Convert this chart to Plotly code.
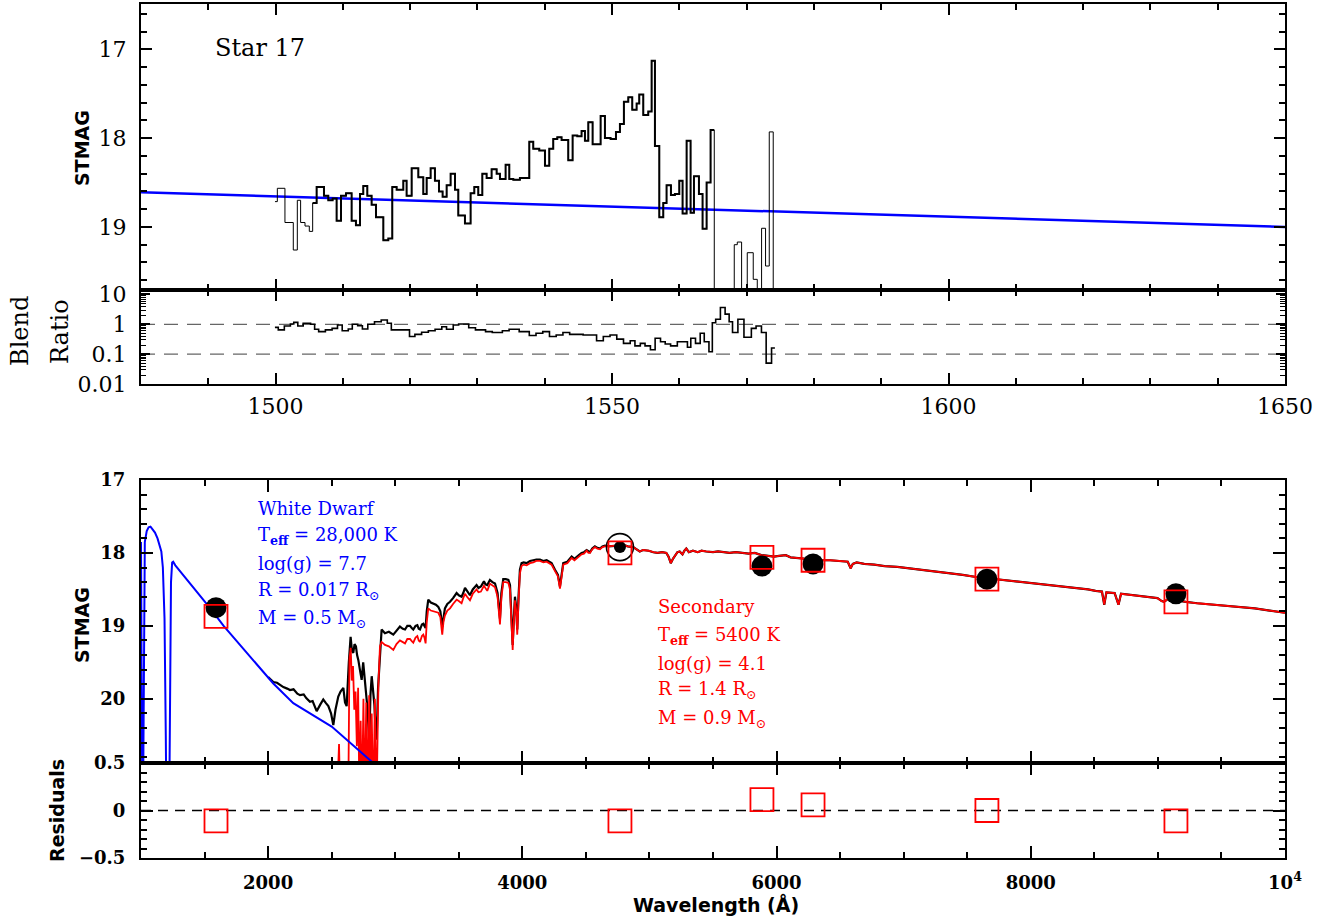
import plotly.graph_objects as go

# ---------------- top panel: observed UV spectrum (bin left edges, STMAG) ----------------
UV_EDGE = [1499.91, 1500.26, 1501.39, 1502.63, 1503.23, 1503.72, 1504.37, 1505.01, 1505.51, 1506.10,
           1507.19, 1507.83, 1508.48, 1509.07, 1509.72, 1510.46, 1511.30, 1511.94, 1512.54, 1513.03,
           1513.63, 1514.27, 1514.92, 1516.01, 1516.75, 1517.34, 1517.99, 1518.98, 1519.47, 1520.22,
           1521.21, 1521.95, 1522.45, 1523.04, 1523.68, 1524.28, 1524.82, 1525.42, 1526.01, 1526.66,
           1527.15, 1528.14, 1528.98, 1529.53, 1530.12, 1530.72, 1531.36, 1532.10, 1532.85, 1533.34,
           1534.18, 1534.73, 1535.32, 1536.31, 1537.70, 1538.29, 1539.18, 1540.03, 1540.67, 1541.26,
           1541.86, 1542.50, 1543.49, 1544.14, 1544.83, 1545.47, 1545.97, 1546.47, 1547.11, 1548.30,
           1548.94, 1549.78, 1550.58, 1551.17, 1551.76, 1552.41, 1553.00, 1553.65, 1554.04, 1554.64,
           1555.38, 1555.88, 1556.37, 1557.02, 1557.61, 1558.10, 1558.75, 1559.34, 1559.99, 1560.48,
           1561.08, 1561.67, 1562.17, 1562.91, 1563.45, 1564.05, 1564.64, 1565.19, 1568.16, 1568.61,
           1569.25, 1570.09, 1570.98, 1571.58, 1572.22, 1572.81, 1573.36, 1573.95]
UV_MAG = [18.715, 18.565, 18.95, 19.26, 18.70, 18.95, 18.99, 19.05, 18.73, 18.55,
          18.65, 18.70, 18.68, 18.93, 18.65, 18.62, 18.93, 18.98, 18.63, 18.54,
          18.65, 18.75, 18.89, 19.15, 19.13, 18.55, 18.58, 18.48, 18.65, 18.34,
          18.44, 18.63, 18.45, 18.34, 18.48, 18.60, 18.66, 18.53, 18.40, 18.58,
          18.87, 18.96, 18.62, 18.55, 18.64, 18.40, 18.45, 18.35, 18.40, 18.46,
          18.30, 18.46, 18.47, 18.45, 18.04, 18.12, 18.14, 18.31, 18.12, 18.01,
          17.99, 18.02, 18.25, 17.97, 17.98, 17.92, 18.03, 17.82, 18.07, 17.75,
          18.00, 18.01, 17.93, 17.84, 17.59, 17.54, 17.68, 17.61, 17.51, 17.74,
          17.70, 17.13, 18.09, 18.89, 18.73, 18.53, 18.64, 18.63, 18.48, 18.85,
          18.03, 18.84, 18.43, 18.63, 19.02, 18.50, 17.91, 20.50, 19.20, 19.17,
          20.50, 19.29, 19.59, 20.50, 19.015, 19.44, 17.93, 20.50]
GOOD_RANGE = [1505.5, 1564.7]   # wavelengths drawn with the heavy line

# ---------------- blend ratio (bin left edges) ----------------
RATIO_EDGE = [1499.9, 1500.4, 1501.3, 1502.2, 1502.7, 1503.3, 1504.1, 1505.2, 1505.8, 1506.4,
              1507.4, 1508.4, 1509.2, 1509.9, 1510.8, 1511.4, 1512.2, 1512.9, 1513.7, 1514.7,
              1515.7, 1516.6, 1517.2, 1519.9, 1520.7, 1521.7, 1522.7, 1523.7, 1524.7, 1525.4,
              1526.4, 1527.2, 1528.7, 1529.7, 1531.2, 1532.2, 1533.7, 1534.7, 1536.2, 1537.7,
              1538.7, 1539.7, 1540.7, 1541.7, 1542.7, 1543.7, 1545.7, 1547.7, 1548.7, 1549.7,
              1550.7, 1551.7, 1552.7, 1553.4, 1554.2, 1554.9, 1555.7, 1556.4, 1557.2, 1557.9,
              1558.7, 1559.7, 1560.4, 1561.2, 1561.7, 1562.4, 1563.1, 1563.7, 1564.4, 1564.9,
              1565.4, 1566.1, 1566.8, 1567.4, 1567.9, 1568.7, 1569.6, 1570.7, 1571.4, 1572.2,
              1572.9, 1573.7, 1574.2]
RATIO_VAL = [0.79, 0.65, 0.88, 1.02, 1.16, 0.88, 1.08, 1.00, 0.68, 0.57,
             0.65, 0.73, 0.95, 0.61, 0.70, 1.00, 0.90, 0.70, 1.00, 1.22,
             1.39, 1.08, 0.65, 0.39, 0.46, 0.54, 0.61, 0.68, 0.83, 0.68,
             0.95, 1.02, 0.77, 0.65, 0.57, 0.53, 0.61, 0.68, 0.57, 0.42,
             0.50, 0.57, 0.39, 0.44, 0.53, 0.46, 0.44, 0.28, 0.39, 0.44,
             0.32, 0.23, 0.28, 0.19, 0.23, 0.19, 0.14, 0.34, 0.26, 0.22,
             0.19, 0.26, 0.26, 0.17, 0.34, 0.23, 0.50, 0.26, 0.12, 1.13,
             1.47, 3.68, 2.20, 1.22, 0.53, 1.47, 0.37, 0.73, 0.88, 0.53,
             0.05, 0.16, 0.16]
RATIO_LINES = [1.0, 0.1]

# ---------------- bottom panel: model spectra ----------------
WD_WL = [1000, 1006, 1010, 1016, 1022, 1030, 1045, 1060, 1075, 1090, 1110, 1130, 1145, 1160,
         1172, 1185, 1195, 1200, 1222, 1228, 1236, 1245, 1253, 1270, 1480, 1550, 1650, 1858,
         2041, 2198, 2500, 2827, 2870]
WD_MAG = [17.85, 19.50, 21.5, 21.5, 19.00, 17.85, 17.70, 17.65, 17.64, 17.67, 17.72, 17.80, 17.88, 17.98,
          18.20, 18.90, 20.50, 21.5, 21.5, 19.50, 18.40, 18.13, 18.12, 18.17, 18.61, 18.77, 19.00, 19.42,
          19.79, 20.06, 20.38, 20.88, 20.95]

BLEND_WL = [2000, 2041, 2070, 2094, 2120, 2150, 2172, 2200, 2230, 2251, 2280, 2300, 2329, 2350,
            2382, 2410, 2434, 2455, 2474, 2495, 2513, 2530, 2552, 2570, 2592, 2605, 2618, 2635,
            2649, 2660, 2670, 2680, 2691, 2700, 2710, 2722, 2736, 2748, 2762, 2771, 2780, 2796,
            2805, 2815, 2825, 2836, 2845, 2854, 2865, 2875, 2885, 2893, 2919, 2950, 2985, 3010,
            3037, 3060, 3077, 3095, 3116, 3130, 3142, 3160, 3174, 3185, 3195, 3210, 3221, 3230,
            3239, 3248, 3260, 3280, 3300, 3320, 3339, 3355, 3370, 3380, 3391, 3410, 3431, 3455,
            3483, 3500, 3522, 3535, 3549, 3565, 3588, 3610, 3640, 3655, 3674, 3698, 3710, 3724,
            3745, 3765, 3785, 3805, 3824, 3835, 3850, 3870, 3890, 3903, 3915, 3924, 3933, 3942,
            3952, 3960, 3970, 3981, 3994, 4010, 4034, 4060, 4086, 4110, 4139, 4165, 4191, 4210,
            4230, 4257, 4280, 4296, 4310, 4322, 4354, 4370, 4388, 4410, 4427, 4445, 4466, 4485,
            4506, 4520, 4532, 4550, 4571, 4590, 4611, 4630, 4650]
BLEND_MAG = [19.70, 19.77, 19.78, 19.81, 19.84, 19.86, 19.88, 19.87, 19.93, 19.95, 19.94, 19.99, 20.04, 20.03,
             20.17, 20.08, 20.01, 20.06, 20.10, 20.20, 20.36, 20.15, 19.97, 19.90, 19.85, 20.05, 20.10, 19.50,
             19.15, 19.35, 19.37, 19.25, 19.28, 19.40, 19.47, 19.60, 19.74, 19.50, 19.74, 19.85, 20.10, 20.58,
             19.95, 19.69, 19.85, 20.08, 20.40, 20.56, 19.85, 19.56, 19.20, 19.05, 19.10, 19.08, 19.12, 19.06,
             19.01, 19.04, 19.05, 19.00, 19.00, 19.03, 19.05, 19.00, 18.99, 19.04, 19.05, 18.98, 18.97, 19.00,
             19.03, 18.80, 18.64, 18.68, 18.69, 18.71, 18.74, 18.80, 19.01, 18.85, 18.76, 18.70, 18.67, 18.62,
             18.55, 18.58, 18.60, 18.55, 18.48, 18.52, 18.58, 18.50, 18.44, 18.48, 18.46, 18.39, 18.43, 18.44,
             18.37, 18.40, 18.42, 18.55, 18.90, 18.55, 18.36, 18.36, 18.37, 18.44, 18.85, 19.26, 18.90, 18.60,
             18.75, 19.05, 18.60, 18.23, 18.14, 18.13, 18.14, 18.11, 18.10, 18.09, 18.09, 18.11, 18.10, 18.12,
             18.14, 18.23, 18.30, 18.46, 18.25, 18.14, 18.12, 18.09, 18.05, 18.08, 18.06, 18.03, 18.00, 17.99,
             17.96, 17.98, 17.99, 17.94, 17.91, 17.93, 17.94, 17.91, 17.90]

SEC_WL = [2540, 2558, 2568, 2630, 2640, 2650, 2658, 2668, 2678, 2688, 2698, 2708, 2718, 2728,
          2738, 2750, 2760, 2772, 2784, 2795, 2805, 2815, 2828, 2840, 2852, 2868, 2880, 2893,
          2919, 2950, 2985, 3010, 3037, 3060, 3077, 3095, 3116, 3130, 3142, 3160, 3174, 3185,
          3195, 3210, 3221, 3230, 3239, 3248, 3260, 3280, 3300, 3320, 3339, 3355, 3370, 3380,
          3391, 3410, 3431, 3455, 3483, 3500, 3522, 3535, 3549, 3565, 3588, 3610, 3640, 3655,
          3674, 3698, 3710, 3724, 3745, 3765, 3785, 3805, 3824, 3835, 3850, 3870, 3890, 3903,
          3915, 3924, 3933, 3942, 3952, 3960, 3970, 3981, 3994, 4010, 4034, 4060, 4086, 4110,
          4139, 4165, 4191, 4210, 4230, 4257, 4280, 4296, 4310, 4322, 4354, 4370, 4388, 4410,
          4427, 4445, 4466, 4485, 4506, 4520, 4532, 4550, 4571, 4590, 4611, 4630, 4650]
SEC_MAG = [21.5, 20.62, 21.5, 21.5, 19.45, 19.30, 19.75, 19.55, 20.15, 19.90, 20.65, 19.85, 21.3, 20.30,
           21.5, 20.00, 21.5, 20.05, 21.5, 19.95, 21.5, 20.20, 21.5, 20.00, 21.5, 19.80, 19.28, 19.22,
           19.26, 19.28, 19.33, 19.25, 19.20, 19.23, 19.24, 19.18, 19.18, 19.21, 19.23, 19.16, 19.14, 19.20,
           19.22, 19.14, 19.12, 19.16, 19.24, 18.95, 18.76, 18.79, 18.80, 18.81, 18.82, 18.88, 19.12, 18.94,
           18.86, 18.79, 18.76, 18.70, 18.64, 18.66, 18.69, 18.62, 18.56, 18.60, 18.65, 18.56, 18.50, 18.54,
           18.53, 18.45, 18.49, 18.52, 18.42, 18.45, 18.47, 18.60, 18.98, 18.62, 18.40, 18.40, 18.41, 18.50,
           18.92, 19.33, 18.96, 18.65, 18.80, 19.12, 18.66, 18.28, 18.18, 18.16, 18.17, 18.14, 18.13, 18.11,
           18.11, 18.13, 18.12, 18.14, 18.16, 18.25, 18.32, 18.49, 18.28, 18.16, 18.14, 18.11, 18.07, 18.10,
           18.08, 18.05, 18.02, 18.01, 17.97, 18.00, 18.00, 17.95, 17.92, 17.94, 17.95, 17.92, 17.91]

# optical part where blended and secondary spectra coincide
OPT_WL = [4680, 4716, 4750, 4794, 4830, 4872, 4900, 4924, 4950, 4994, 5030, 5064, 5100, 5133,
          5150, 5168, 5185, 5203, 5220, 5238, 5260, 5275, 5290, 5310, 5342, 5380, 5410, 5446,
          5500, 5540, 5586, 5630, 5680, 5725, 5780, 5829, 5880, 5934, 5980, 6020, 6073, 6110,
          6160, 6220, 6282, 6350, 6421, 6490, 6560, 6583, 6600, 6630, 6690, 6769, 6850, 6950,
          7048, 7150, 7257, 7360, 7465, 7570, 7674, 7780, 7883, 7990, 8092, 8230, 8370, 8450,
          8510, 8560, 8578, 8595, 8660, 8690, 8710, 8760, 8880, 8997, 9030, 9049, 9080, 9136,
          9220, 9310, 9430, 9554, 9660, 9763, 9880, 10000]
OPT_MAG = [17.91, 17.91, 17.90, 17.89, 17.91, 17.92, 17.95, 17.98, 17.96, 17.97, 17.99, 18.00, 17.99, 18.00,
           18.05, 18.14, 18.08, 18.03, 17.99, 17.98, 18.02, 17.97, 17.94, 17.99, 17.97, 17.99, 17.97, 17.98,
           17.99, 17.98, 17.99, 18.00, 17.99, 18.00, 18.01, 18.00, 18.03, 18.04, 18.05, 18.04, 18.03, 18.06,
           18.07, 18.08, 18.09, 18.10, 18.10, 18.11, 18.12, 18.21, 18.15, 18.13, 18.15, 18.16, 18.18, 18.19,
           18.21, 18.24, 18.26, 18.28, 18.30, 18.33, 18.35, 18.37, 18.39, 18.41, 18.43, 18.46, 18.48, 18.50,
           18.52, 18.53, 18.71, 18.54, 18.55, 18.71, 18.56, 18.57, 18.60, 18.62, 18.66, 18.67, 18.63, 18.65,
           18.67, 18.69, 18.71, 18.73, 18.75, 18.76, 18.79, 18.82]

# ---------------- photometry ----------------
PHOT_WL = [1590, 4768, 5885, 6287, 7655, 9142]
PHOT_OBS = [18.75, 17.92, 18.18, 18.15, 18.36, 18.56]
PHOT_MODEL = [18.87, 18.00, 18.06, 18.10, 18.36, 18.67]
PHOT_SIZE = [21, 12, 21, 21, 21, 21]
RING_WL = [4768]
RING_MAG = [17.92]
RESID = [-0.11, -0.11, 0.115, 0.06, 0.0, -0.11]

# ---------------- styling ----------------
SERIF = "DejaVu Serif, Liberation Serif, serif"
SANS = "DejaVu Sans, Liberation Sans, sans-serif"
BLUE = "#0000ff"
RED = "#ff0000"

fig = go.Figure()

# top panel
fig.add_trace(go.Scatter(x=WD_WL, y=WD_MAG, mode="lines", line=dict(color=BLUE, width=2.5),
                         xaxis="x", yaxis="y", hoverinfo="skip"))
fig.add_trace(go.Scatter(x=UV_EDGE, y=UV_MAG, mode="lines", line=dict(color="black", width=1, shape="hv"),
                         xaxis="x", yaxis="y"))
gx = [w for w in UV_EDGE if GOOD_RANGE[0] <= w <= GOOD_RANGE[1]]
gy = [m for w, m in zip(UV_EDGE, UV_MAG) if GOOD_RANGE[0] <= w <= GOOD_RANGE[1]]
gx = gx + [UV_EDGE[len(gx) + UV_EDGE.index(gx[0])]]
gy = gy + [gy[-1]]
fig.add_trace(go.Scatter(x=gx, y=gy, mode="lines", line=dict(color="black", width=2, shape="hv"),
                         xaxis="x", yaxis="y"))

# ratio panel
for lv in RATIO_LINES:
    fig.add_trace(go.Scatter(x=[1480, 1650], y=[lv, lv], mode="lines",
                             line=dict(color="#666666", width=1.3, dash="14px,9px"),
                             xaxis="x2", yaxis="y2"))
fig.add_trace(go.Scatter(x=RATIO_EDGE, y=RATIO_VAL, mode="lines",
                         line=dict(color="black", width=1.6, shape="hv"), xaxis="x2", yaxis="y2"))

# bottom spectrum panel
fig.add_trace(go.Scatter(x=BLEND_WL + OPT_WL, y=BLEND_MAG + OPT_MAG, mode="lines",
                         line=dict(color="black", width=2.2), xaxis="x3", yaxis="y3"))
fig.add_trace(go.Scatter(x=SEC_WL + OPT_WL, y=SEC_MAG + OPT_MAG, mode="lines",
                         line=dict(color=RED, width=1.8), xaxis="x3", yaxis="y3"))
fig.add_trace(go.Scatter(x=WD_WL, y=WD_MAG, mode="lines", line=dict(color=BLUE, width=2),
                         xaxis="x3", yaxis="y3"))
fig.add_trace(go.Scatter(x=RING_WL, y=RING_MAG, mode="markers",
                         marker=dict(symbol="circle-open", size=27, color="black", line=dict(width=1.6, color="black")),
                         xaxis="x3", yaxis="y3"))
fig.add_trace(go.Scatter(x=PHOT_WL, y=PHOT_OBS, mode="markers",
                         marker=dict(symbol="circle", size=PHOT_SIZE, color="#000000", opacity=1,
                                     line=dict(width=0, color="#000000")),
                         xaxis="x3", yaxis="y3"))
fig.add_trace(go.Scatter(x=PHOT_WL, y=PHOT_MODEL, mode="markers",
                         marker=dict(symbol="square-open", size=23, color=RED, line=dict(width=1.8, color=RED)),
                         xaxis="x3", yaxis="y3"))

# residual panel
fig.add_trace(go.Scatter(x=[1000, 10000], y=[0, 0], mode="lines",
                         line=dict(color="black", width=1.6, dash="10px,7px"), xaxis="x4", yaxis="y4"))
fig.add_trace(go.Scatter(x=PHOT_WL, y=RESID, mode="markers",
                         marker=dict(symbol="square-open", size=23, color=RED, line=dict(width=1.8, color=RED)),
                         xaxis="x4", yaxis="y4"))

H = 917
T, B = 4, 59
PH = H - T - B


def py(p):
    return (H - B - p) / PH


def px(p):
    return (p - 141) / 1144


common = dict(showline=True, linewidth=2, linecolor="black", mirror="allticks", ticks="inside",
              tickwidth=1.5, tickcolor="black", showgrid=False, zeroline=False, automargin=False)
serif_tick = dict(family=SERIF, size=22, color="black")
bottom_tick = dict(family=SERIF, size=18, color="black", weight="bold")

log_minor = [m * 10 ** e for e in (-2, -1, 0) for m in range(2, 10)]

fig.update_layout(
    width=1320, height=917, margin=dict(l=141, r=35, t=T, b=B, autoexpand=False),
    paper_bgcolor="white", plot_bgcolor="white", showlegend=False,
    xaxis=dict(domain=[0, 1], anchor="y", range=[1480, 1650], showticklabels=False,
               tick0=1500, dtick=50, ticklen=11,
               minor=dict(dtick=10, tick0=1500, ticklen=6, ticks="inside", tickcolor="black", tickwidth=1.5),
               **common),
    yaxis=dict(domain=[py(290), 1], anchor="x", range=[19.71, 16.49], tickvals=[17, 18, 19],
               ticklen=11, tickfont=serif_tick, ticklabelstandoff=8,
               minor=dict(dtick=0.2, tick0=17, ticklen=6, ticks="inside", tickcolor="black", tickwidth=1.5),
               **common),
    xaxis2=dict(domain=[0, 1], anchor="y2", range=[1480, 1650], tickvals=[1500, 1550, 1600, 1650],
                ticklen=11, tickfont=serif_tick, ticklabelstandoff=2,
                minor=dict(dtick=10, tick0=1500, ticklen=6, ticks="inside", tickcolor="black", tickwidth=1.5),
                **common),
    yaxis2=dict(domain=[py(384), py(290)], anchor="x2", type="log", range=[-2, 1.15],
                tickvals=[0.01, 0.1, 1, 10], ticktext=["0.01", "0.1", "1", "10"],
                ticklen=9, tickfont=serif_tick, ticklabelstandoff=8,
                minor=dict(tickvals=log_minor, ticklen=5, ticks="inside", tickcolor="black", tickwidth=1.2),
                **common),
    xaxis3=dict(domain=[0, 1], anchor="y3", range=[1000, 10000], showticklabels=False,
                tickvals=[2000, 4000, 6000, 8000, 10000], ticklen=12,
                minor=dict(dtick=500, tick0=1000, ticklen=6, ticks="inside", tickcolor="black", tickwidth=1.5),
                **common),
    yaxis3=dict(domain=[py(763), py(480)], anchor="x3", range=[20.88, 17], tickvals=[17, 18, 19, 20],
                ticklen=12, tickfont=bottom_tick, ticklabelstandoff=10,
                minor=dict(dtick=0.2, tick0=17, ticklen=6, ticks="inside", tickcolor="black", tickwidth=1.5),
                **common),
    xaxis4=dict(domain=[0, 1], anchor="y4", range=[1000, 10000],
                tickvals=[2000, 4000, 6000, 8000, 10000],
                ticktext=["2000", "4000", "6000", "8000", "10<sup>4</sup>"],
                ticklen=12, tickfont=bottom_tick, ticklabelstandoff=7,
                minor=dict(dtick=500, tick0=1000, ticklen=6, ticks="inside", tickcolor="black", tickwidth=1.5),
                **common),
    yaxis4=dict(domain=[0, py(763)], anchor="x4", range=[-0.5, 0.5], tickvals=[-0.5, 0, 0.5],
                ticklen=12, tickfont=bottom_tick, ticklabelstandoff=10,
                minor=dict(dtick=0.1, tick0=0, ticklen=6, ticks="inside", tickcolor="black", tickwidth=1.5),
                **common),
)

ann = []


def add(text, x, y, size, family, color="black", angle=0, xanchor="center", weight="normal"):
    ann.append(dict(text=text, x=x, y=y, xref="paper", yref="paper", showarrow=False,
                    xanchor=xanchor, yanchor="middle", textangle=angle,
                    font=dict(family=family, size=size, color=color, weight=weight)))


add("Star 17", px(213), py(48), 24, SERIF, xanchor="left")
add("STMAG", px(82), py(148), 19, SANS, angle=-90, weight="bold")
add("Blend", px(20), py(331), 24, SERIF, angle=-90)
add("Ratio", px(60), py(332), 24, SERIF, angle=-90)
add("STMAG", px(82), py(625), 19, SANS, angle=-90, weight="bold")
add("Residuals", px(57), py(811), 19, SANS, angle=-90, weight="bold")
add("Wavelength (Å)", px(716), py(904), 19, SANS, weight="bold")

WD_TEXT = ["White Dwarf", "T<sub><b>eff</b></sub> = 28,000 K", "log(g) = 7.7",
           "R = 0.017 R<sub>⊙</sub>", "M = 0.5 M<sub>⊙</sub>"]
WD_Y = [508, 536, 563, 591, 619]
for t, yy in zip(WD_TEXT, WD_Y):
    add(t, px(256), py(yy), 18, SERIF, color=BLUE, xanchor="left")

SEC_TEXT = ["Secondary", "T<sub><b>eff</b></sub> = 5400 K", "log(g) = 4.1",
            "R = 1.4 R<sub>⊙</sub>", "M = 0.9 M<sub>⊙</sub>"]
SEC_Y = [606, 636, 663, 690, 719]
for t, yy in zip(SEC_TEXT, SEC_Y):
    add(t, px(656), py(yy), 18, SERIF, color=RED, xanchor="left")

fig.update_layout(annotations=ann)
fig.write_html("out.html", config={"displayModeBar": False},
               post_script="document.body.style.margin='0';document.body.style.overflow='hidden';")
